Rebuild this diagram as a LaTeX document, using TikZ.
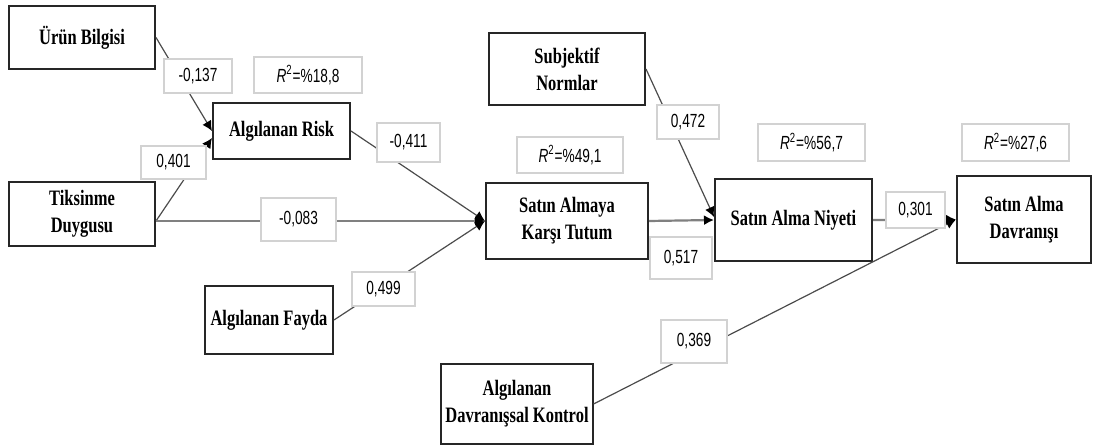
\documentclass[tikz,border=0pt]{standalone}
\usepackage{fontspec}
\setmainfont{Liberation Serif}[FakeStretch=0.75]
\newfontfamily\numfont{Liberation Sans}[FakeStretch=0.72]
\usetikzlibrary{arrows.meta}

\tikzset{
	construct/.style={draw=black!85, line width=1pt, fill=white, align=center,
		font=\bfseries\fontsize{11}{13.5}\selectfont, inner sep=2pt},
	coef/.style={draw=gray!35, line width=0.9pt, fill=white,
		font=\numfont\fontsize{9.5}{11}\selectfont, inner sep=1pt},
	link/.style={draw=black!70, line width=0.6pt, -{Latex[length=5pt,width=5pt,color=black]}},
	mainlink/.style={link, draw=black!50, line width=1.1pt},
}

\begin{document}
\begin{tikzpicture}[x=0.5pt, y=-0.5pt]
	\useasboundingbox (0,0) rectangle (1093,448);
	
	% Constructs
	\node[construct, minimum width=73pt, minimum height=31.5pt] (urun) at (82,37.5) {Ürün Bilgisi};
	\node[construct, minimum width=73pt, minimum height=32pt] (tiks) at (82,214) {Tiksinme\\Duygusu};
	\node[construct, minimum width=68.5pt, minimum height=28pt] (risk) at (281.5,131) {Algılanan Risk};
	\node[construct, minimum width=64pt, minimum height=34pt] (fayda) at (269,320) {Algılanan Fayda};
	\node[construct, minimum width=78pt, minimum height=36pt] (normlar) at (567,69) {Subjektif\\Normlar};
	\node[construct, minimum width=81pt, minimum height=38pt] (tutum) at (567,221) {Satın Almaya\\Karşı Tutum};
	\node[construct, minimum width=78.5pt, minimum height=41pt] (niyet) at (793.5,220) {Satın Alma Niyeti};
	\node[construct, minimum width=67pt, minimum height=43.5pt] (davranis) at (1024,219.5) {Satın Alma\\Davranışı};
	\node[construct, minimum width=75pt, minimum height=40pt] (kontrol) at (517,404) {Algılanan\\Davranışsal Kontrol};
	
	% Paths
	\draw[link] (urun.east) -- (risk.west);
	\draw[link] (tiks.east |- tutum.west) -- ([yshift=-3.5pt]risk.west);
	\draw[mainlink] (tiks.east |- tutum.west) -- (tutum.west);
	\draw[link] (risk.east) -- (tutum.west);
	\draw[link] (fayda.east) -- (tutum.west);
	\draw[mainlink] (tutum.east) -- (niyet.west);
	\draw[link] (normlar.east) -- ([yshift=1.5pt]niyet.west);
	\draw[mainlink] (niyet.east) -- (davranis.west);
	\draw[link] (kontrol.east) -- (davranis.west);
	
	% Path coefficients
	\node[coef, minimum width=34pt, minimum height=17pt] (c-urun) at (198,76) {-0,137};
	\node[coef, minimum width=32.5pt, minimum height=16.5pt] (c-tiks) at (173.5,162.5) {0,401};
	\node[coef, minimum width=37.5pt, minimum height=21.5pt] (c-tiks2) at (298.5,219.5) {-0,083};
	\node[coef, minimum width=31.5pt, minimum height=19.5pt] (c-risk) at (408.5,142.5) {-0,411};
	\node[coef, minimum width=31.5pt, minimum height=17pt] (c-fayda) at (383.5,289) {0,499};
	\node[coef, minimum width=31pt, minimum height=17pt] (c-normlar) at (688,122) {0,472};
	\node[coef, minimum width=31pt, minimum height=21pt] (c-tutum) at (681,258) {0,517};
	\node[coef, minimum width=29.5pt, minimum height=18pt] (c-niyet) at (915.5,210) {0,301};
	\node[coef, minimum width=33pt, minimum height=21.5pt] (c-kontrol) at (694,341.5) {0,369};
	
	% Explained variance
	\node[coef, minimum width=54pt, minimum height=18pt] (r-risk) at (308,75) {{\itshape R}\textsuperscript{2}=\%18,8};
	\node[coef, minimum width=53pt, minimum height=18pt] (r-tutum) at (570,155) {{\itshape R}\textsuperscript{2}=\%49,1};
	\node[coef, minimum width=53.5pt, minimum height=18.5pt] (r-niyet) at (811.5,142.5) {{\itshape R}\textsuperscript{2}=\%56,7};
	\node[coef, minimum width=53.5pt, minimum height=18.5pt] (r-davranis) at (1015.5,142.5) {{\itshape R}\textsuperscript{2}=\%27,6};
\end{tikzpicture}
\end{document}
